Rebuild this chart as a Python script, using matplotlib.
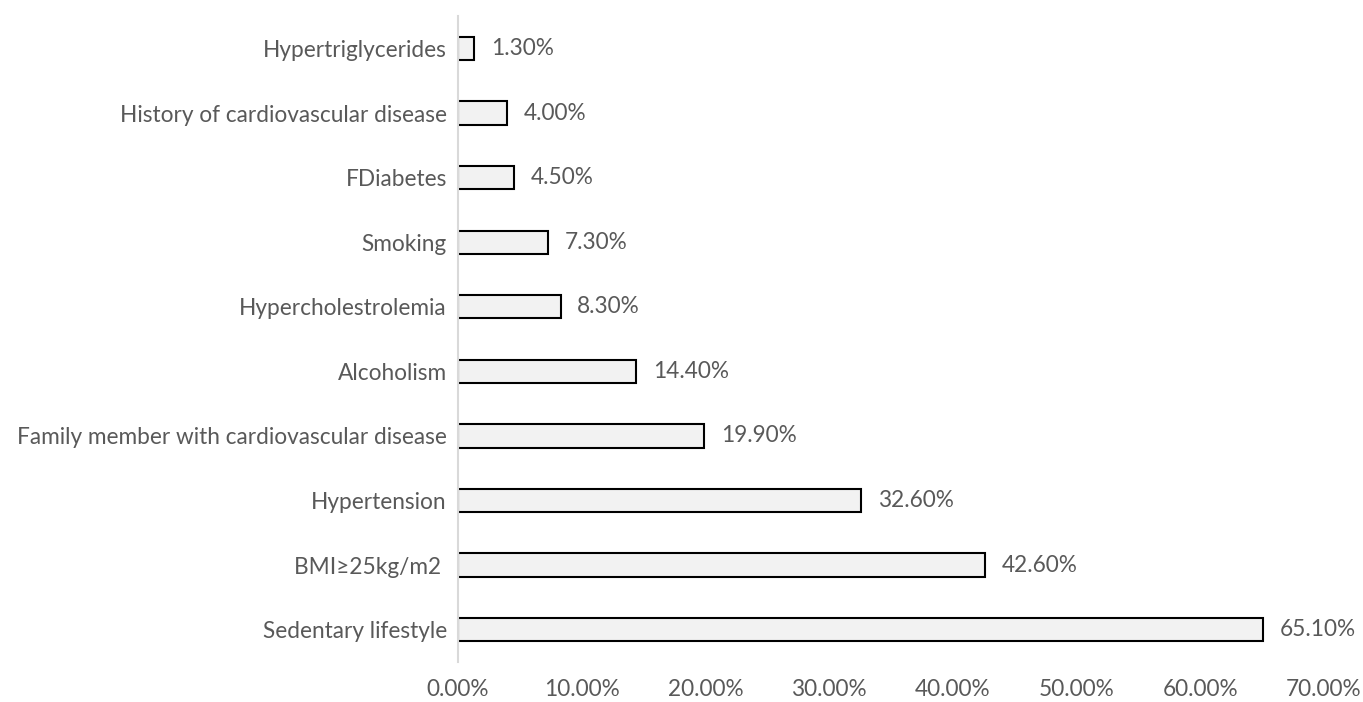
import matplotlib.pyplot as plt
from matplotlib.ticker import FuncFormatter

# risk factors, bottom to top
factors = ['Sedentary lifestyle', 'BMI≥25kg/m2 ', 'Hypertension',
           'Family member with cardiovascular disease', 'Alcoholism',
           'Hypercholestrolemia', 'Smoking', 'FDiabetes',
           'History of cardiovascular disease', 'Hypertriglycerides']
percent = [65.1, 42.6, 32.6, 19.9, 14.4, 8.3, 7.3, 4.5, 4.0, 1.3]
xticks = [0, 10, 20, 30, 40, 50, 60, 70]

text_color = '#595959'
fsize = 16.3
plt.rcParams['font.family'] = ['Lato', 'DejaVu Sans']

fig = plt.figure(figsize=(13.63, 7.02), dpi=100)
ax = fig.add_axes([0.336, 0.057, 0.6354, 0.920])

ypos = range(len(factors))
ax.barh(ypos, percent, height=0.36, color='#F2F2F2', edgecolor='black', linewidth=1.5)

for y, v in zip(ypos, percent):
    ax.text(v + 1.35, y, f'{v:.2f}%', va='center', ha='left', fontsize=fsize, color=text_color)

ax.set_xlim(0, 70)
ax.set_ylim(-0.5, len(factors) - 0.5)
ax.set_yticks(list(ypos))
ax.set_yticklabels(factors)
ax.set_xticks(xticks)
ax.xaxis.set_major_formatter(FuncFormatter(lambda v, p: f'{v:.2f}%'))
ax.tick_params(axis='both', length=0, labelsize=fsize, labelcolor=text_color)
ax.tick_params(axis='y', pad=8)
ax.tick_params(axis='x', pad=12)

for side in ['top', 'right', 'bottom']:
    ax.spines[side].set_visible(False)
ax.spines['left'].set_color('#D9D9D9')
ax.spines['left'].set_linewidth(1.5)

fig.savefig('out.png', dpi=100, facecolor='white')
